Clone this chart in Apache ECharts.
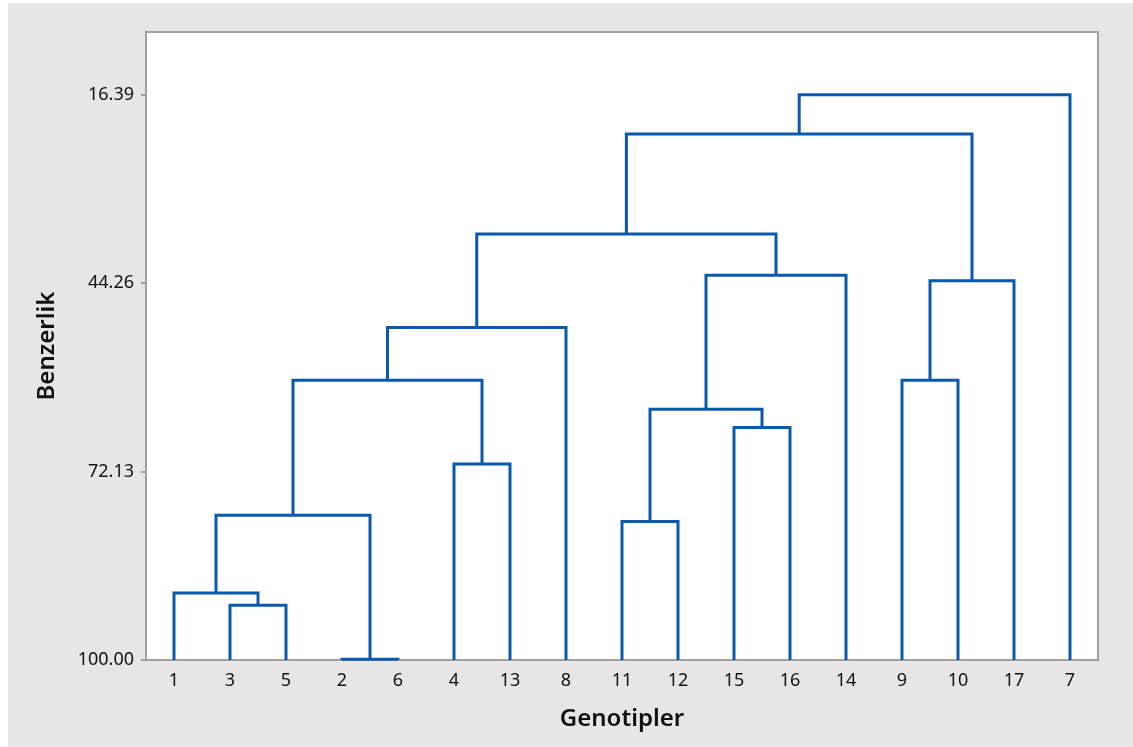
<!DOCTYPE html>
<html>
<head>
<meta charset="utf-8">
<script src="https://cdn.jsdelivr.net/npm/echarts@6/dist/echarts.min.js"></script>
<style>
  html, body { margin: 0; padding: 0; background: #fff; }
  #main { position: absolute; left: 8px; top: 3px; width: 1125px; height: 744px; background: #e6e6e6; }
</style>
</head>
<body>
<div id="main"></div>
<script>
// leaf order along the x axis
var leaves = ['1', '3', '5', '2', '6', '4', '13', '8', '11', '12', '15', '16', '14', '9', '10', '17', '7'];

// merges: [node a, node b, similarity]; nodes 0..16 are leaves, new nodes get 17, 18, ...
var merges = [
    [1, 2, 91.9],
    [0, 17, 90.1],
    [3, 4, 99.9],
    [18, 19, 78.6],
    [5, 6, 71.0],
    [20, 21, 58.6],
    [22, 7, 50.8],
    [8, 9, 79.5],
    [10, 11, 65.6],
    [24, 25, 62.9],
    [26, 12, 43.1],
    [23, 27, 37.0],
    [13, 14, 58.6],
    [29, 15, 43.9],
    [28, 30, 22.2],
    [31, 16, 16.39]
];

var yTicks = [16.39, 44.26, 72.13, 100.00];

// position and height of every node
var nodeX = leaves.map(function (l, i) { return i; });
var nodeH = leaves.map(function () { return 100; });
var linkData = [];
merges.forEach(function (m) {
    var a = m[0], b = m[1], h = m[2];
    linkData.push([nodeX[a], nodeH[a], nodeX[b], nodeH[b], h]);
    nodeX.push((nodeX[a] + nodeX[b]) / 2);
    nodeH.push(h);
});

var chart = echarts.init(document.getElementById('main'));

var font = '"Noto Sans", "Open Sans", sans-serif';

var option = {
    animation: false,
    grid: {
        left: 138, right: 35, top: 29, bottom: 87,
        show: true,
        backgroundColor: '#ffffff',
        borderColor: '#a0a0a0',
        borderWidth: 2
    },
    xAxis: [
        {
            type: 'category',
            data: leaves,
            name: 'Genotipler',
            nameLocation: 'middle',
            nameGap: 47,
            nameTextStyle: { fontSize: 24, fontWeight: 600, color: '#111', fontFamily: font },
            axisLine: { lineStyle: { color: '#a0a0a0', width: 2 } },
            axisTick: { alignWithLabel: true, length: 5, lineStyle: { color: '#a0a0a0', width: 2 } },
            axisLabel: { fontSize: 18, color: '#111', fontFamily: font, margin: 12 },
            splitLine: { show: false }
        },
        {
            type: 'value',
            min: -0.5,
            max: 16.5,
            show: false
        }
    ],
    yAxis: {
        type: 'value',
        inverse: true,
        min: 7.1,
        max: 100,
        name: 'Benzerlik',
        nameLocation: 'middle',
        nameGap: 87,
        nameRotate: 90,
        nameTextStyle: { fontSize: 24, fontWeight: 600, color: '#111', fontFamily: font },
        axisLine: { show: true, onZero: false, lineStyle: { color: '#a0a0a0', width: 2 } },
        axisTick: { show: true, length: 5, customValues: yTicks, lineStyle: { color: '#a0a0a0', width: 2 } },
        axisLabel: {
            fontSize: 18, color: '#111', fontFamily: font, margin: 12,
            customValues: yTicks,
            formatter: function (v) { return v.toFixed(2); }
        },
        splitLine: { show: false }
    },
    series: [
        {
            type: 'custom',
            xAxisIndex: 1,
            data: linkData,
            renderItem: function (params, api) {
                var p1 = api.coord([api.value(0), api.value(1)]);
                var p2 = api.coord([api.value(0), api.value(4)]);
                var p3 = api.coord([api.value(2), api.value(4)]);
                var p4 = api.coord([api.value(2), api.value(3)]);
                return {
                    type: 'polyline',
                    shape: { points: [p1, p2, p3, p4] },
                    style: { stroke: '#0a59ac', lineWidth: 3, fill: null, lineJoin: 'miter' }
                };
            }
        }
    ]
};

chart.setOption(option);
</script>
</body>
</html>
